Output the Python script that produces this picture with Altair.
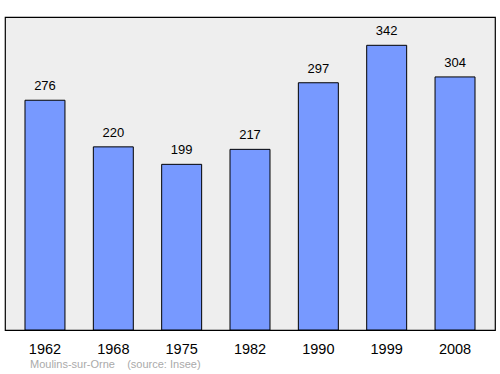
import altair as alt
import pandas as pd

years = ["1962", "1968", "1975", "1982", "1990", "1999", "2008"]
population = [276, 220, 199, 217, 297, 342, 304]
source_text = ["Moulins-sur-Orne\u00a0\u00a0\u00a0\u00a0(source: Insee)"]

df = pd.DataFrame({"year": years, "pop": population})

FONT = "Liberation Sans"

x = alt.X("year:N", sort=years,
          scale=alt.Scale(paddingInner=0.415, paddingOuter=0.2925),
          axis=alt.Axis(title=None, labelAngle=0, labelFontSize=14.5, labelFont=FONT,
                        labelColor="#000000", domain=False, ticks=False, tickSize=0,
                        labelPadding=23, labelBaseline="alphabetic"))
y = alt.Y("pop:Q", scale=alt.Scale(domain=[0, 376], nice=False, zero=True),
          axis=None)

bars = alt.Chart(df).mark_bar(fill="#7799ff", stroke="#000000", strokeWidth=1).encode(x=x, y=y)
labels = alt.Chart(df).mark_text(fontSize=13, font=FONT, color="#000000",
                                 baseline="alphabetic", dy=-10).encode(
    x=x, y=y, text="pop:Q")
src = alt.Chart(pd.DataFrame({"t": source_text})).mark_text(
    fontSize=11, font=FONT, color="#aaaaaa", align="left", baseline="alphabetic").encode(
    x=alt.value(25), y=alt.value(351), text="t:N")

chart = alt.layer(bars, labels, src).properties(
    width=490, height=313,
    autosize=alt.AutoSizeParams(type="none"),
    padding={"left": 5, "top": 17, "right": 5, "bottom": 44},
    background="#ffffff",
).configure_view(fill="#eeeeee", stroke="#000000", strokeWidth=1.2)

chart.save("out.html", embed_options={"renderer": "svg", "actions": False})
